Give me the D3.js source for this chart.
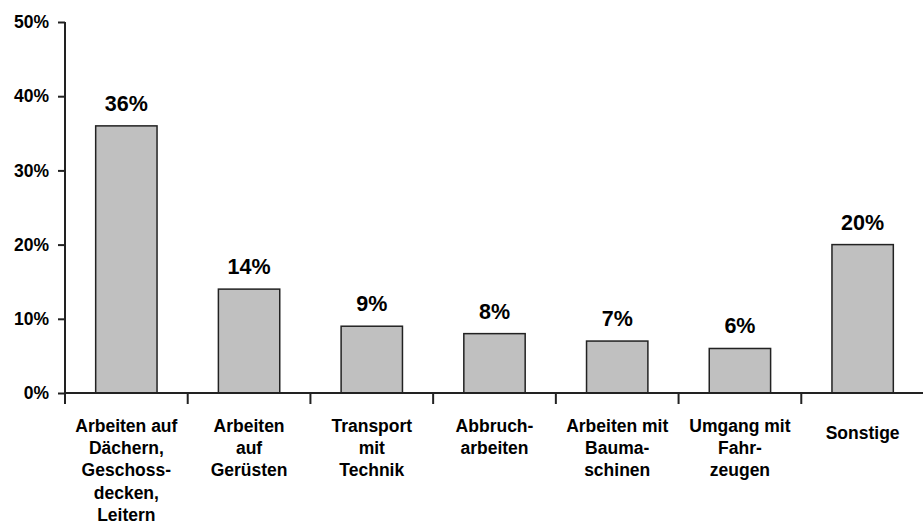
<!DOCTYPE html>
<html>
<head>
<meta charset="utf-8">
<script src="https://cdn.jsdelivr.net/npm/d3@7"></script>
<style>
  body { margin: 0; background: #fff; }
  svg { display: block; font-family: "Liberation Sans", Arial, sans-serif; }
</style>
</head>
<body>
<div id="chart"></div>
<script>
// Categories (line breaks as in the original labels)
const categories = [
    ["Arbeiten auf", "Dächern,", "Geschoss-", "decken,", "Leitern"],
    ["Arbeiten", "auf", "Gerüsten"],
    ["Transport", "mit", "Technik"],
    ["Abbruch-", "arbeiten"],
    ["Arbeiten mit", "Bauma-", "schinen"],
    ["Umgang mit", "Fahr-", "zeugen"],
    ["Sonstige"]
];
const values = [36, 14, 9, 8, 7, 6, 20];
const yTicks = [0, 10, 20, 30, 40, 50];

const width = 923, height = 525;
const plotLeft = 65, plotRight = 924, plotTop = 22, plotBottom = 393;

const svg = d3.select("#chart").append("svg")
    .attr("width", width)
    .attr("height", height);

const x = d3.scaleBand()
    .domain(d3.range(categories.length))
    .range([plotLeft, plotRight])
    .paddingInner(0.5)
    .paddingOuter(0.25);

const y = d3.scaleLinear()
    .domain([0, 50])
    .range([plotBottom, plotTop]);

// Bars
svg.selectAll(".bar")
    .data(values)
    .enter().append("rect")
    .attr("class", "bar")
    .attr("x", (d, i) => x(i))
    .attr("y", d => y(d))
    .attr("width", x.bandwidth())
    .attr("height", d => plotBottom - y(d))
    .style("fill", "#c0c0c0")
    .style("stroke", "#222")
    .style("stroke-width", 1.5);

// Value labels
svg.selectAll(".val")
    .data(values)
    .enter().append("text")
    .attr("class", "val")
    .attr("x", (d, i) => x(i) + x.bandwidth() / 2)
    .attr("y", d => y(d) - 15)
    .attr("text-anchor", "middle")
    .style("font-size", "21.5px")
    .style("font-weight", "bold")
    .text(d => d + "%");

// Y axis
const yAxis = d3.axisLeft(y)
    .tickValues(yTicks)
    .tickSize(7)
    .tickPadding(9)
    .tickFormat(d => d + "%");

const gy = svg.append("g")
    .attr("transform", `translate(${plotLeft},0)`)
    .call(yAxis);
gy.select(".domain").attr("d", `M0,${plotTop}V${plotBottom}`).style("stroke", "#222").style("stroke-width", 2);
gy.selectAll(".tick line").style("stroke", "#222").style("stroke-width", 2);
gy.selectAll(".tick text")
    .style("font-size", "17.5px")
    .style("font-weight", "bold")
    .style("fill", "#000")
    .style("font-family", "'Liberation Sans', Arial, sans-serif");

// X axis line with separator ticks between categories
svg.append("line")
    .attr("x1", plotLeft).attr("x2", width)
    .attr("y1", plotBottom).attr("y2", plotBottom)
    .style("stroke", "#222")
    .style("stroke-width", 2);

const sepX = d3.range(categories.length).map(i => x(i) - x.bandwidth() / 2);
svg.selectAll(".sep")
    .data(sepX)
    .enter().append("line")
    .attr("class", "sep")
    .attr("x1", d => d).attr("x2", d => d)
    .attr("y1", plotBottom).attr("y2", plotBottom + 11)
    .style("stroke", "#222")
    .style("stroke-width", 2);

// Category labels
const cat = svg.selectAll(".cat")
    .data(categories)
    .enter().append("text")
    .attr("class", "cat")
    .attr("text-anchor", "middle")
    .style("font-size", "17.5px")
    .style("font-weight", "bold");

cat.each(function(lines, i) {
    const cx = x(i) + x.bandwidth() / 2;
    const t = d3.select(this);
    // single-line label sits a bit lower in the original
    const y0 = lines.length === 1 ? 439 : 431.5;
    lines.forEach((ln, k) => {
        t.append("tspan")
            .attr("x", cx)
            .attr("y", y0 + k * 22.4)
            .text(ln);
    });
});
</script>
</body>
</html>
